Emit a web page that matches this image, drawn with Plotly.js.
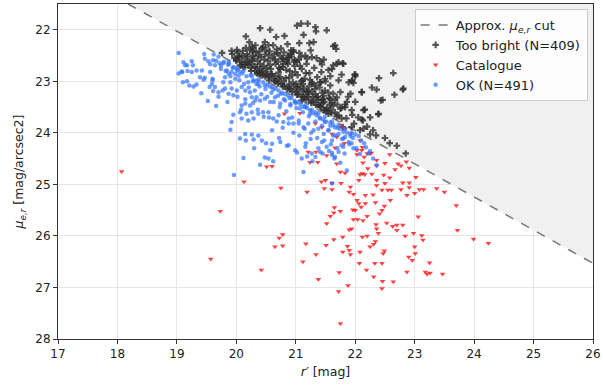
<!DOCTYPE html>
<html>
<head>
<meta charset="utf-8">
<script src="https://cdn.plot.ly/plotly-3.0.1.min.js"></script>
<style>html,body{margin:0;padding:0;background:#fff;}#chart{width:603px;height:390px;}</style>
</head>
<body>
<div id="chart"></div>
<script>
// Approximate surface-brightness cut (end points)
const cutR = [18.18, 26.0];
const cutMu = [21.5, 26.53];

// Too bright (N=409)
const brightR = [20.40,20.57,20.16,20.22,20.67,20.81,21.02,21.09,21.20,21.33,21.34,21.52,21.13,21.23,21.30,21.63,21.69,21.79,21.47,21.41,21.94,22.00,22.11,22.28,22.36,22.40,22.43,22.46,22.39,22.14,22.13,21.94,21.75,21.83,21.72,21.77,21.79,21.63,21.69,21.63,21.49,21.58,21.72,21.44,21.47,19.76,19.92,20.01,
21.66,21.68,21.72,21.80,21.63,21.55,21.61,21.77,22.00,21.89,21.95,21.97,21.75,21.92,22.11,22.64,22.80,21.58,21.66,21.86,21.83,21.77,21.94,22.11,22.39,21.55,21.69,22.08,22.14,22.25,22.81,22.66,22.16,21.99,
19.93,19.97,20.02,20.05,20.08,20.11,20.14,20.18,20.20,20.23,20.26,20.28,20.31,20.33,20.36,20.38,20.41,20.43,20.46,20.48,20.51,20.53,20.56,20.58,20.61,20.63,20.66,20.68,20.71,20.73,20.76,20.78,20.80,20.83,20.85,20.88,20.90,20.93,20.95,20.98,21.00,21.03,21.05,21.08,21.10,21.13,21.15,21.18,21.20,21.23,21.26,21.28,21.31,21.33,21.36,21.38,21.40,21.43,21.46,21.50,21.53,21.55,21.58,21.61,
20.00,20.06,20.12,20.16,20.22,20.25,20.30,20.35,20.40,20.44,20.47,20.52,20.55,20.60,20.64,20.67,20.70,20.74,20.77,20.81,20.84,20.87,20.91,20.94,20.97,21.01,21.04,21.07,21.11,21.14,21.17,21.21,21.24,21.27,21.30,21.34,21.37,21.41,21.44,21.48,21.52,21.56,21.59,20.19,20.27,20.37,20.50,20.62,20.75,20.86,20.96,21.06,21.16,21.25,21.35,20.10,20.44,20.57,20.72,20.89,20.99,21.12,21.22,21.32,21.42,21.47,21.57,21.66,21.70,21.85,21.98,22.05,22.20,22.30,22.50,22.58,22.70,22.85,22.35,22.25,22.00,21.88,21.95,
20.91,20.96,20.88,20.99,20.85,20.79,20.74,20.48,20.54,20.32,20.26,21.06,21.27,21.44,21.49,21.41,21.27,21.09,21.02,21.19,21.35,21.16,21.10,
20.00,20.04,20.10,20.15,20.18,20.24,20.27,20.32,20.35,20.40,20.42,20.48,20.50,20.55,20.58,20.64,20.66,20.70,20.72,20.78,20.80,20.86,20.89,20.94,20.97,21.02,21.05,21.10,21.12,21.18,21.21,21.26,21.29,21.34,21.37,21.42,21.45,21.50,21.60,
20.29,20.39,20.45,20.55,20.65,20.69,20.79,20.87,20.92,21.02,21.09,21.19];
const brightMu = [21.97,22.00,22.13,22.24,22.14,22.12,21.92,21.88,21.88,21.95,22.03,22.01,22.10,22.26,22.24,22.32,22.66,22.65,22.58,22.61,23.00,22.90,23.21,23.12,23.16,22.94,23.37,23.36,23.63,23.56,23.76,23.89,23.53,23.50,23.66,23.72,23.89,23.47,23.31,23.24,23.18,23.08,22.98,23.37,23.56,22.45,22.41,22.39,
22.30,22.37,22.63,22.66,22.69,22.78,22.76,22.87,22.87,23.02,22.98,23.03,23.21,23.24,23.21,22.84,23.16,23.34,23.36,23.40,23.45,23.51,23.56,23.74,23.64,23.63,23.68,23.95,23.92,24.03,23.14,23.26,23.55,22.87,
22.47,22.55,22.44,22.52,22.62,22.41,22.56,22.47,22.68,22.39,22.58,22.50,22.72,22.44,22.61,22.83,22.53,22.36,22.70,22.48,22.88,22.60,22.42,22.76,22.55,22.95,22.66,22.38,22.83,22.50,23.05,22.72,22.44,22.94,22.63,23.12,22.80,22.52,23.02,22.70,23.20,22.88,22.58,23.10,22.76,23.30,22.95,22.66,23.18,22.84,23.38,23.05,22.74,23.25,22.92,23.46,23.12,22.82,23.35,23.00,23.52,23.22,22.90,23.42,
22.58,22.69,22.73,22.35,22.62,22.80,22.56,22.84,22.66,22.88,22.58,22.74,22.98,22.86,22.47,23.00,22.62,22.92,22.56,23.10,22.78,22.50,23.15,22.88,22.62,23.05,23.25,22.70,22.98,23.14,22.84,23.30,22.97,23.20,23.40,23.08,23.30,23.48,23.22,23.40,23.58,23.32,23.55,22.52,22.42,22.50,22.40,22.30,22.36,22.28,22.40,22.45,22.50,22.40,22.55,22.50,22.80,22.68,22.74,22.93,22.82,23.05,23.10,23.15,23.02,23.28,23.45,23.60,23.45,23.72,23.82,23.70,23.88,23.95,24.10,24.20,24.25,24.40,24.05,23.70,23.40,23.30,23.65,
22.47,22.43,22.54,22.59,22.59,22.66,22.76,22.24,22.30,22.30,22.32,22.26,22.53,22.67,22.95,23.02,23.02,23.00,23.11,23.21,23.31,23.31,23.37,
22.60,22.52,22.66,22.68,22.62,22.74,22.66,22.80,22.73,22.85,22.76,22.90,22.82,22.92,22.86,23.00,22.90,23.04,22.96,23.10,23.00,23.15,23.06,23.20,23.10,23.26,23.16,23.30,23.20,23.35,23.24,23.42,23.30,23.46,23.36,23.50,23.42,23.55,23.62,
22.36,22.42,22.33,22.50,22.58,22.45,22.56,22.66,22.40,22.62,22.52,22.56];

// Catalogue
const catR = [18.07,19.73,19.57,
20.51,20.60,20.13,20.75,21.19,21.24,21.37,21.21,21.34,21.52,21.43,21.50,21.48,21.61,21.61,21.69,21.75,21.83,21.76,21.92,21.97,21.90,22.03,22.06,22.00,22.10,22.17,22.17,22.30,22.08,22.12,22.16,22.06,22.21,22.13,22.03,22.20,22.27,22.28,22.36,22.48,22.58,22.50,22.36,22.50,22.58,22.36,22.45,22.55,22.61,22.36,22.72,22.77,22.67,22.86,22.91,23.02,22.80,22.91,22.77,22.91,22.87,23.00,23.08,23.15,23.37,23.50,22.59,22.49,22.45,22.41,22.34,22.20,22.13,22.04,21.97,21.65,21.75,21.64,21.58,21.52,21.96,22.35,22.36,22.53,22.63,22.70,22.80,23.06,22.70,22.20,22.12,22.39,22.34,22.31,22.25,21.90,21.94,21.79,21.87,21.90,21.79,21.92,21.64,21.51,21.34,21.17,21.12,20.78,20.72,20.78,20.65,20.42,21.38,21.73,21.72,21.88,21.75,22.08,22.07,22.33,22.45,22.47,22.49,22.19,22.31,22.46,22.64,22.45,22.87,22.90,22.96,23.01,23.00,22.98,23.12,23.14,22.84,23.25,23.21,23.26,23.47,23.72,23.99,24.24,23.70,23.18,
21.07,20.81,21.66,21.82,22.03,22.11,21.33,21.44,21.61,21.69,22.08,22.12,22.25,22.15,21.76,21.83];
const catMu = [24.75,25.52,26.45,
24.66,24.65,24.95,25.07,25.15,24.57,24.57,24.37,24.37,24.44,24.95,24.92,25.08,25.10,24.98,24.60,24.76,24.78,24.98,25.05,25.19,25.15,25.31,25.37,25.50,25.44,25.37,25.21,25.20,24.81,24.79,24.81,24.92,24.69,24.58,24.42,24.40,24.39,24.80,24.92,24.82,24.87,24.98,24.64,24.59,24.42,24.53,25.11,25.11,25.11,25.02,24.60,24.64,24.71,24.56,24.68,24.86,24.97,24.97,25.10,25.06,25.21,25.17,25.10,25.10,25.08,25.15,25.31,25.42,25.50,25.57,25.35,25.62,25.70,25.68,25.68,25.45,25.52,25.55,25.62,25.76,25.49,25.78,25.86,25.75,25.81,25.79,25.79,25.63,25.89,26.00,26.02,25.95,26.11,26.16,26.21,25.88,25.86,26.02,26.20,26.28,26.31,26.36,26.07,26.18,26.36,26.15,26.50,25.97,26.04,26.19,26.21,26.66,26.84,26.71,27.08,26.96,27.70,26.31,26.53,26.53,26.53,26.34,26.29,26.66,26.79,26.88,26.89,27.02,26.70,26.41,26.47,26.34,26.21,25.95,25.99,26.08,26.00,26.52,26.74,26.72,26.74,25.89,26.06,26.14,25.41,26.70,
23.62,23.63,24.29,24.20,24.34,24.34,23.82,23.89,24.02,24.08,24.15,24.28,24.40,24.47,23.85,23.92];

// OK (N=491)
const okR = [19.03,19.11,19.14,19.03,19.08,19.17,19.09,19.18,19.25,19.10,19.17,19.21,19.28,19.33,19.25,19.27,19.33,19.42,19.39,19.47,19.45,19.46,19.47,19.53,19.56,19.61,19.64,19.72,19.74,19.56,19.60,19.59,19.55,19.64,19.41,19.52,19.66,19.61,19.70,19.77,19.81,19.81,19.87,19.84,19.92,19.95,20.01,20.06,20.04,19.98,19.90,19.92,20.01,20.09,20.15,20.23,19.87,19.95,20.09,20.15,20.23,20.06,20.17,20.26,20.09,20.20,20.29,19.92,19.90,20.15,20.26,20.37,20.06,20.16,20.29,20.12,19.78,19.87,20.29,20.34,20.20,20.34,20.32,20.26,
20.37,20.48,20.60,20.71,20.82,20.93,21.05,21.16,21.27,21.38,21.49,21.61,21.72,21.83,21.94,
20.40,20.48,20.57,20.65,20.74,20.82,20.91,20.99,21.07,21.16,21.24,21.33,21.41,21.49,21.58,21.66,20.37,20.46,20.54,20.62,20.71,20.79,20.88,20.96,21.05,21.13,21.21,21.30,21.38,21.47,21.55,21.63,21.72,21.80,20.43,20.60,20.74,20.88,20.57,20.99,21.16,21.27,21.44,21.61,21.77,21.89,21.61,21.72,21.10,20.54,
21.19,21.33,21.41,21.52,21.61,21.66,21.80,21.94,21.97,22.08,22.22,22.36,21.86,21.13,21.61,21.83,21.92,22.00,22.06,
19.62,19.66,19.70,19.74,19.79,19.82,19.86,19.90,19.94,19.98,20.03,20.05,20.10,20.13,20.17,20.21,20.24,20.28,20.31,20.35,20.39,20.42,20.45,20.49,20.52,20.56,20.59,20.63,20.66,20.70,20.73,20.77,20.80,20.84,20.87,20.91,20.94,20.98,21.01,21.05,21.08,21.12,21.15,21.19,21.22,21.26,21.29,21.33,21.36,21.40,21.44,21.48,21.51,21.55,21.59,21.63,21.67,21.70,21.74,21.78,21.82,21.86,21.90,21.96,22.02,22.10,22.18,22.25,22.30,
20.02,20.15,20.28,20.36,20.45,20.55,20.68,20.78,20.88,20.96,21.06,21.17,21.25,21.38,21.45,21.56,21.65,21.75,20.60,20.72,20.50,20.30,20.85,21.02,20.40,20.62,21.28,19.60,19.70,19.85,19.78,20.08,19.95,19.96,20.48,
19.88,20.00,20.12,20.26,20.38,20.52,20.62,20.75,20.90,21.00,21.13,21.24,21.35,21.46,21.58,21.70,21.80,21.92,22.15];
const okMu = [22.45,22.63,22.69,22.85,22.81,22.69,22.82,22.80,22.82,23.02,23.00,23.08,23.10,23.06,22.61,22.69,22.79,22.79,22.92,22.93,22.97,22.47,22.56,22.61,22.67,22.59,22.69,22.65,22.76,22.82,22.98,23.05,23.11,23.11,23.23,23.38,23.48,23.19,23.21,23.18,23.14,22.92,22.85,22.79,22.82,22.72,22.79,22.82,22.89,22.95,23.02,23.14,23.18,23.11,23.18,23.21,23.24,23.27,23.47,23.43,23.47,23.60,23.63,23.60,23.72,23.76,23.72,23.79,23.94,24.02,24.03,24.05,24.11,24.15,24.13,24.49,22.65,22.62,22.98,23.05,23.02,23.31,23.37,23.31,
23.05,23.08,23.11,23.18,23.25,23.32,23.40,23.47,23.55,23.62,23.69,23.78,23.85,23.92,24.00,
23.37,23.34,23.40,23.31,23.43,23.37,23.47,23.40,23.53,23.50,23.63,23.60,23.72,23.79,23.86,23.89,23.63,23.69,23.60,23.72,23.66,23.79,23.72,23.82,23.76,23.89,23.82,23.95,23.92,24.02,23.95,24.05,24.02,24.11,24.15,24.21,24.18,24.24,24.34,24.34,24.27,24.40,24.18,24.15,24.24,24.18,24.43,24.37,24.50,24.50,
24.46,24.47,24.37,24.27,24.39,24.47,24.27,24.20,24.30,24.41,24.40,24.63,24.73,24.76,24.98,24.08,24.02,24.03,24.06,
22.48,22.60,22.52,22.70,22.62,22.80,22.68,22.90,22.74,22.86,22.76,22.98,22.85,23.05,22.90,23.12,22.88,23.00,23.18,22.98,23.10,23.25,23.02,23.15,23.30,23.10,23.22,23.40,23.14,23.28,23.50,23.22,23.35,23.58,23.28,23.44,23.70,23.38,23.52,23.82,23.45,23.60,23.92,23.52,23.68,24.00,23.62,23.78,24.10,23.70,23.86,24.15,23.78,23.95,24.22,23.85,24.05,24.30,23.92,24.12,24.40,24.00,24.22,24.10,24.30,24.15,24.28,24.35,24.50,
23.30,23.35,23.42,23.55,23.60,23.70,23.78,23.90,23.82,24.00,24.05,24.20,24.12,24.30,24.40,24.35,24.50,24.58,23.95,24.10,24.20,24.30,24.25,24.38,24.62,24.55,24.55,22.95,23.30,23.40,23.02,23.55,23.65,24.82,24.48,
22.66,22.74,22.80,22.90,22.98,23.06,23.16,23.24,23.33,23.42,23.50,23.56,23.66,23.74,23.80,23.90,23.98,24.06,24.20];

const shadeR = [cutR[0], cutR[1], cutR[1], cutR[0]];
const shadeMu = [cutMu[0], cutMu[1], cutMu[0], cutMu[0]];

const traces = [
  {x: shadeR, y: shadeMu, type: 'scatter', mode: 'lines', fill: 'toself',
   fillcolor: '#f0f0f0', line: {width: 0, color: 'rgba(0,0,0,0)'}, showlegend: false, hoverinfo: 'skip'},
  {x: cutR, y: cutMu, type: 'scatter', mode: 'lines', name: 'Approx. <i>μ</i><sub><i>e,r</i></sub> cut',
   line: {color: '#777777', width: 1.5, dash: 'dash'}},
  {x: brightR, y: brightMu, type: 'scatter', mode: 'markers', name: 'Too bright (N=409)',
   marker: {symbol: 'cross', size: 5.5, color: 'rgba(45,45,45,0.8)', line: {width: 0}}},
  {x: catR, y: catMu, type: 'scatter', mode: 'markers', name: 'Catalogue',
   marker: {symbol: 'triangle-down', size: 5, color: 'rgba(255,20,20,0.8)', line: {width: 0}}},
  {x: okR, y: okMu, type: 'scatter', mode: 'markers', name: 'OK (N=491)',
   marker: {symbol: 'circle', size: 4.5, color: 'rgba(50,115,255,0.7)', line: {width: 0}}}
];

const axisCommon = {
  showline: true, linecolor: '#333', linewidth: 1, mirror: true,
  ticks: 'outside', ticklen: 4, tickwidth: 1, tickcolor: '#333',
  showgrid: true, gridcolor: '#e6e6e6', gridwidth: 1, zeroline: false,
  tickfont: {size: 12, color: '#222'}
};

const layout = {
  width: 603, height: 390,
  margin: {l: 58, r: 10, t: 4, b: 51},
  paper_bgcolor: '#ffffff', plot_bgcolor: '#ffffff',
  font: {family: 'DejaVu Sans, sans-serif', size: 12, color: '#222'},
  xaxis: Object.assign({}, axisCommon, {range: [17, 26], dtick: 1, tick0: 17,
    title: {text: "<i>r′</i> [mag]", font: {size: 12.5}, standoff: 6}}),
  yaxis: Object.assign({}, axisCommon, {range: [28, 21.5], dtick: 1, tick0: 22,
    title: {text: '<i>μ</i><sub><i>e,r</i></sub> [mag/arcsec2]', font: {size: 12.5}, standoff: 8}}),
  legend: {x: 0.99, xanchor: 'right', y: 0.985, yanchor: 'top',
    bgcolor: 'rgba(255,255,255,0.85)', bordercolor: '#cccccc', borderwidth: 1,
    font: {size: 13, color: '#222'}, tracegroupgap: 0},
  showlegend: true
};

Plotly.newPlot('chart', traces, layout, {displayModeBar: false, staticPlot: true});
</script>
</body>
</html>
